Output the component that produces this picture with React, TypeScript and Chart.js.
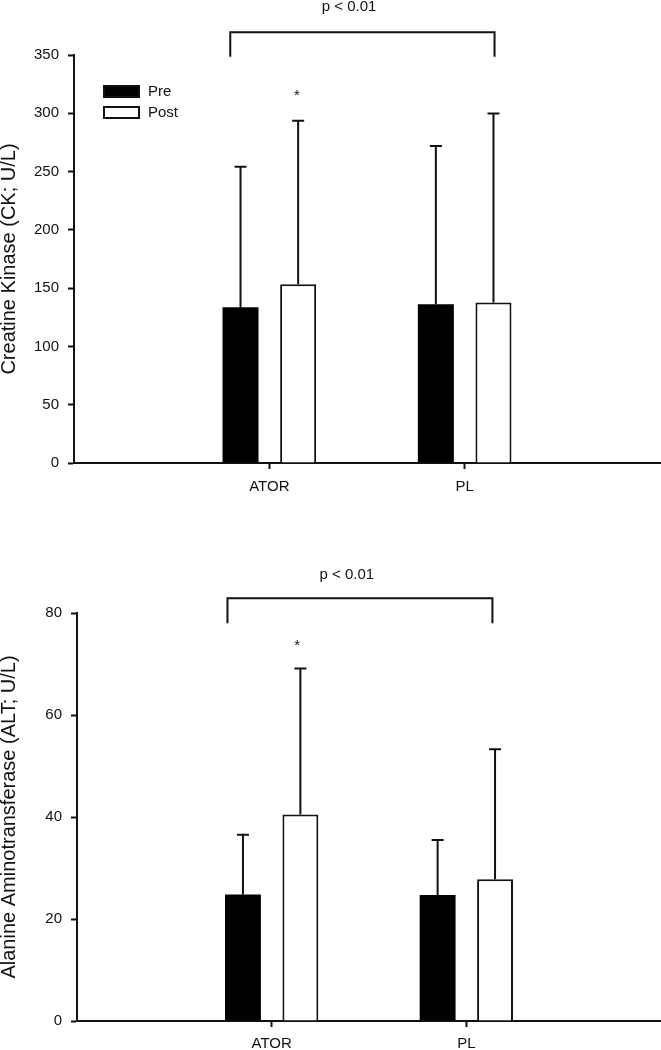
import React, { useEffect, useRef } from 'react';
import { Chart, registerables } from 'chart.js';

Chart.register(...registerables);

// ---------- data ----------
const categories = ['', 'ATOR', 'PL', ''];
const seriesNames = ['Pre', 'Post'];

const ckPre = [null, 133.7, 136.2, null];
const ckPost = [null, 153.4, 137.6, null];
const ckPreSD = [null, 120.5, 135.7, null];
const ckPostSD = [null, 140.2, 162.3, null];
const ckAxis = { min: 0, max: 350, step: 50 };
const ckTitle = 'Creatine Kinase (CK; U/L)';

const altPre = [null, 24.8, 24.7, null];
const altPost = [null, 40.5, 27.8, null];
const altPreSD = [null, 11.7, 10.8, null];
const altPostSD = [null, 28.6, 25.5, null];
const altAxis = { min: 0, max: 80, step: 20 };
const altTitle = 'Alanine Aminotransferase (ALT; U/L)';

const sigText = 'p < 0.01';
const starText = '*';

// ---------- styling ----------
const FONT = "'Liberation Sans', Arial, Helvetica, sans-serif";
const INK = '#111';

const errorBarPlugin = {
  id: 'errorBars',
  afterDatasetsDraw(chart: any) {
    const ctx = chart.ctx;
    const yScale = chart.scales.y;
    chart.data.datasets.forEach((ds: any, di: number) => {
      const meta = chart.getDatasetMeta(di);
      meta.data.forEach((bar: any, i: number) => {
        const v = ds.data[i];
        const e = ds.errors ? ds.errors[i] : null;
        if (v == null || e == null) return;
        const top = yScale.getPixelForValue(v + e);
        ctx.save();
        ctx.strokeStyle = INK;
        ctx.lineWidth = 2;
        ctx.beginPath();
        ctx.moveTo(bar.x, bar.y);
        ctx.lineTo(bar.x, top);
        ctx.moveTo(bar.x - 6, top);
        ctx.lineTo(bar.x + 6, top);
        ctx.stroke();
        ctx.restore();
      });
    });
  },
};

const annotPlugin = {
  id: 'annot',
  afterDraw(chart: any, _args: any, opts: any) {
    if (!opts || !opts.bracket) return;
    const ctx = chart.ctx;
    const xs = chart.scales.x;
    const ys = chart.scales.y;
    const b = opts.bracket;
    const x1 = xs.getPixelForValue(b.x1);
    const x2 = xs.getPixelForValue(b.x2);
    const yt = ys.getPixelForValue(b.yTop);
    const yl = ys.getPixelForValue(b.yLeg);
    ctx.save();
    ctx.strokeStyle = INK;
    ctx.lineWidth = 2;
    ctx.beginPath();
    ctx.moveTo(x1, yl);
    ctx.lineTo(x1, yt);
    ctx.lineTo(x2, yt);
    ctx.lineTo(x2, yl);
    ctx.stroke();

    ctx.fillStyle = INK;
    ctx.font = `15px ${FONT}`;
    ctx.textAlign = 'center';
    ctx.textBaseline = 'alphabetic';
    ctx.fillText(opts.label.text, xs.getPixelForValue(opts.label.x), ys.getPixelForValue(opts.label.y));
    ctx.fillText(opts.star.text, xs.getPixelForValue(opts.star.x), ys.getPixelForValue(opts.star.y));

    if (opts.legend) {
      const ca = chart.chartArea;
      const lx = ca.left + 29;
      const ly = ca.top + 30;
      chart.data.datasets.forEach((ds: any, i: number) => {
        const ry = ly + i * 21;
        ctx.lineWidth = 2;
        ctx.fillStyle = ds.backgroundColor;
        ctx.fillRect(lx, ry, 37, 13);
        ctx.strokeStyle = INK;
        ctx.strokeRect(lx + 1, ry + 1, 35, 11);
        ctx.fillStyle = INK;
        ctx.textAlign = 'left';
        ctx.textBaseline = 'middle';
        ctx.font = `15px ${FONT}`;
        ctx.fillText(ds.label, lx + 45, ry + 7);
      });
    }
    ctx.restore();
  },
};

function makeConfig(p: {
  pre: any[]; post: any[]; preSD: any[]; postSD: any[];
  axis: { min: number; max: number; step: number };
  title: string; padTop: number; padRight: number; yWidth: number; xHeight: number; xPad: number;
  annot: any;
}) {
  return {
    type: 'bar',
    data: {
      labels: categories,
      datasets: [
        {
          label: seriesNames[0],
          data: p.pre,
          errors: p.preSD,
          backgroundColor: '#000000',
          borderColor: '#000000',
          borderWidth: 0,
          categoryPercentage: 0.59,
          barPercentage: 0.625,
        },
        {
          label: seriesNames[1],
          data: p.post,
          errors: p.postSD,
          backgroundColor: '#ffffff',
          borderColor: INK,
          borderWidth: 2,
          categoryPercentage: 0.59,
          barPercentage: 0.625,
        },
      ],
    },
    options: {
      responsive: false,
      animation: false,
      events: [],
      layout: { padding: { top: p.padTop, right: p.padRight, left: 0, bottom: 0 } },
      plugins: {
        legend: { display: false },
        tooltip: { enabled: false },
        annot: p.annot,
      },
      scales: {
        x: {
          type: 'category',
          offset: false,
          grid: {
            display: true,
            drawOnChartArea: false,
            offset: false,
            tickLength: 6,
            tickWidth: 2,
            color: INK,
            tickColor: (c: any) => (c.index === 1 || c.index === 2 ? INK : 'rgba(0,0,0,0)'),
          },
          border: { display: true, color: INK, width: 2 },
          ticks: { color: INK, font: { family: FONT, size: 15 }, padding: p.xPad, maxRotation: 0, autoSkip: false },
          afterFit: (s: any) => {
            s.height = p.xHeight;
            s.paddingLeft = 0;
            s.paddingRight = 0;
          },
        },
        y: {
          min: p.axis.min,
          max: p.axis.max,
          grid: { display: true, drawOnChartArea: false, tickLength: 6, tickWidth: 2, color: INK, tickColor: INK },
          border: { display: true, color: INK, width: 2 },
          ticks: { stepSize: p.axis.step, color: INK, font: { family: FONT, size: 15 }, padding: 9 },
          title: {
            display: true,
            text: p.title,
            color: INK,
            font: { family: FONT, size: 20, lineHeight: 0.9 },
            padding: 0,
          },
          afterFit: (s: any) => { s.width = p.yWidth; },
        },
      },
    },
    plugins: [errorBarPlugin, annotPlugin],
  };
}

function BarChart(props: { cfg: any }) {
  const ref = useRef<HTMLCanvasElement | null>(null);
  useEffect(() => {
    if (!ref.current) return;
    const chart = new Chart(ref.current, props.cfg);
    return () => chart.destroy();
  }, []);
  return <canvas ref={ref} width={661} height={525} style={{ display: 'block', width: 661, height: 525 }} />;
}

export default function App() {
  const topCfg = makeConfig({
    pre: ckPre, post: ckPost, preSD: ckPreSD, postSD: ckPostSD,
    axis: ckAxis, title: ckTitle, padTop: 55, padRight: 1, yWidth: 74, xHeight: 62, xPad: 9,
    annot: {
      bracket: { x1: 0.8, x2: 2.153, yTop: 369.6, yLeg: 348.5 },
      label: { text: sigText, x: 1.408, y: 387.6 },
      star: { text: starText, x: 1.141, y: 311 },
      legend: true,
    },
  });
  const bottomCfg = makeConfig({
    pre: altPre, post: altPost, preSD: altPreSD, postSD: altPostSD,
    axis: altAxis, title: altTitle, padTop: 88, padRight: 0, yWidth: 77, xHeight: 29, xPad: 8,
    annot: {
      bracket: { x1: 0.773, x2: 2.134, yTop: 82.9, yLeg: 78.0 },
      label: { text: sigText, x: 1.386, y: 86.6 },
      star: { text: starText, x: 1.131, y: 72.8 },
      legend: false,
    },
  });
  return (
    <div style={{ position: 'absolute', left: 0, top: 0, width: 661, height: 1050, background: '#fff' }}>
      <BarChart cfg={topCfg} />
      <BarChart cfg={bottomCfg} />
    </div>
  );
}
